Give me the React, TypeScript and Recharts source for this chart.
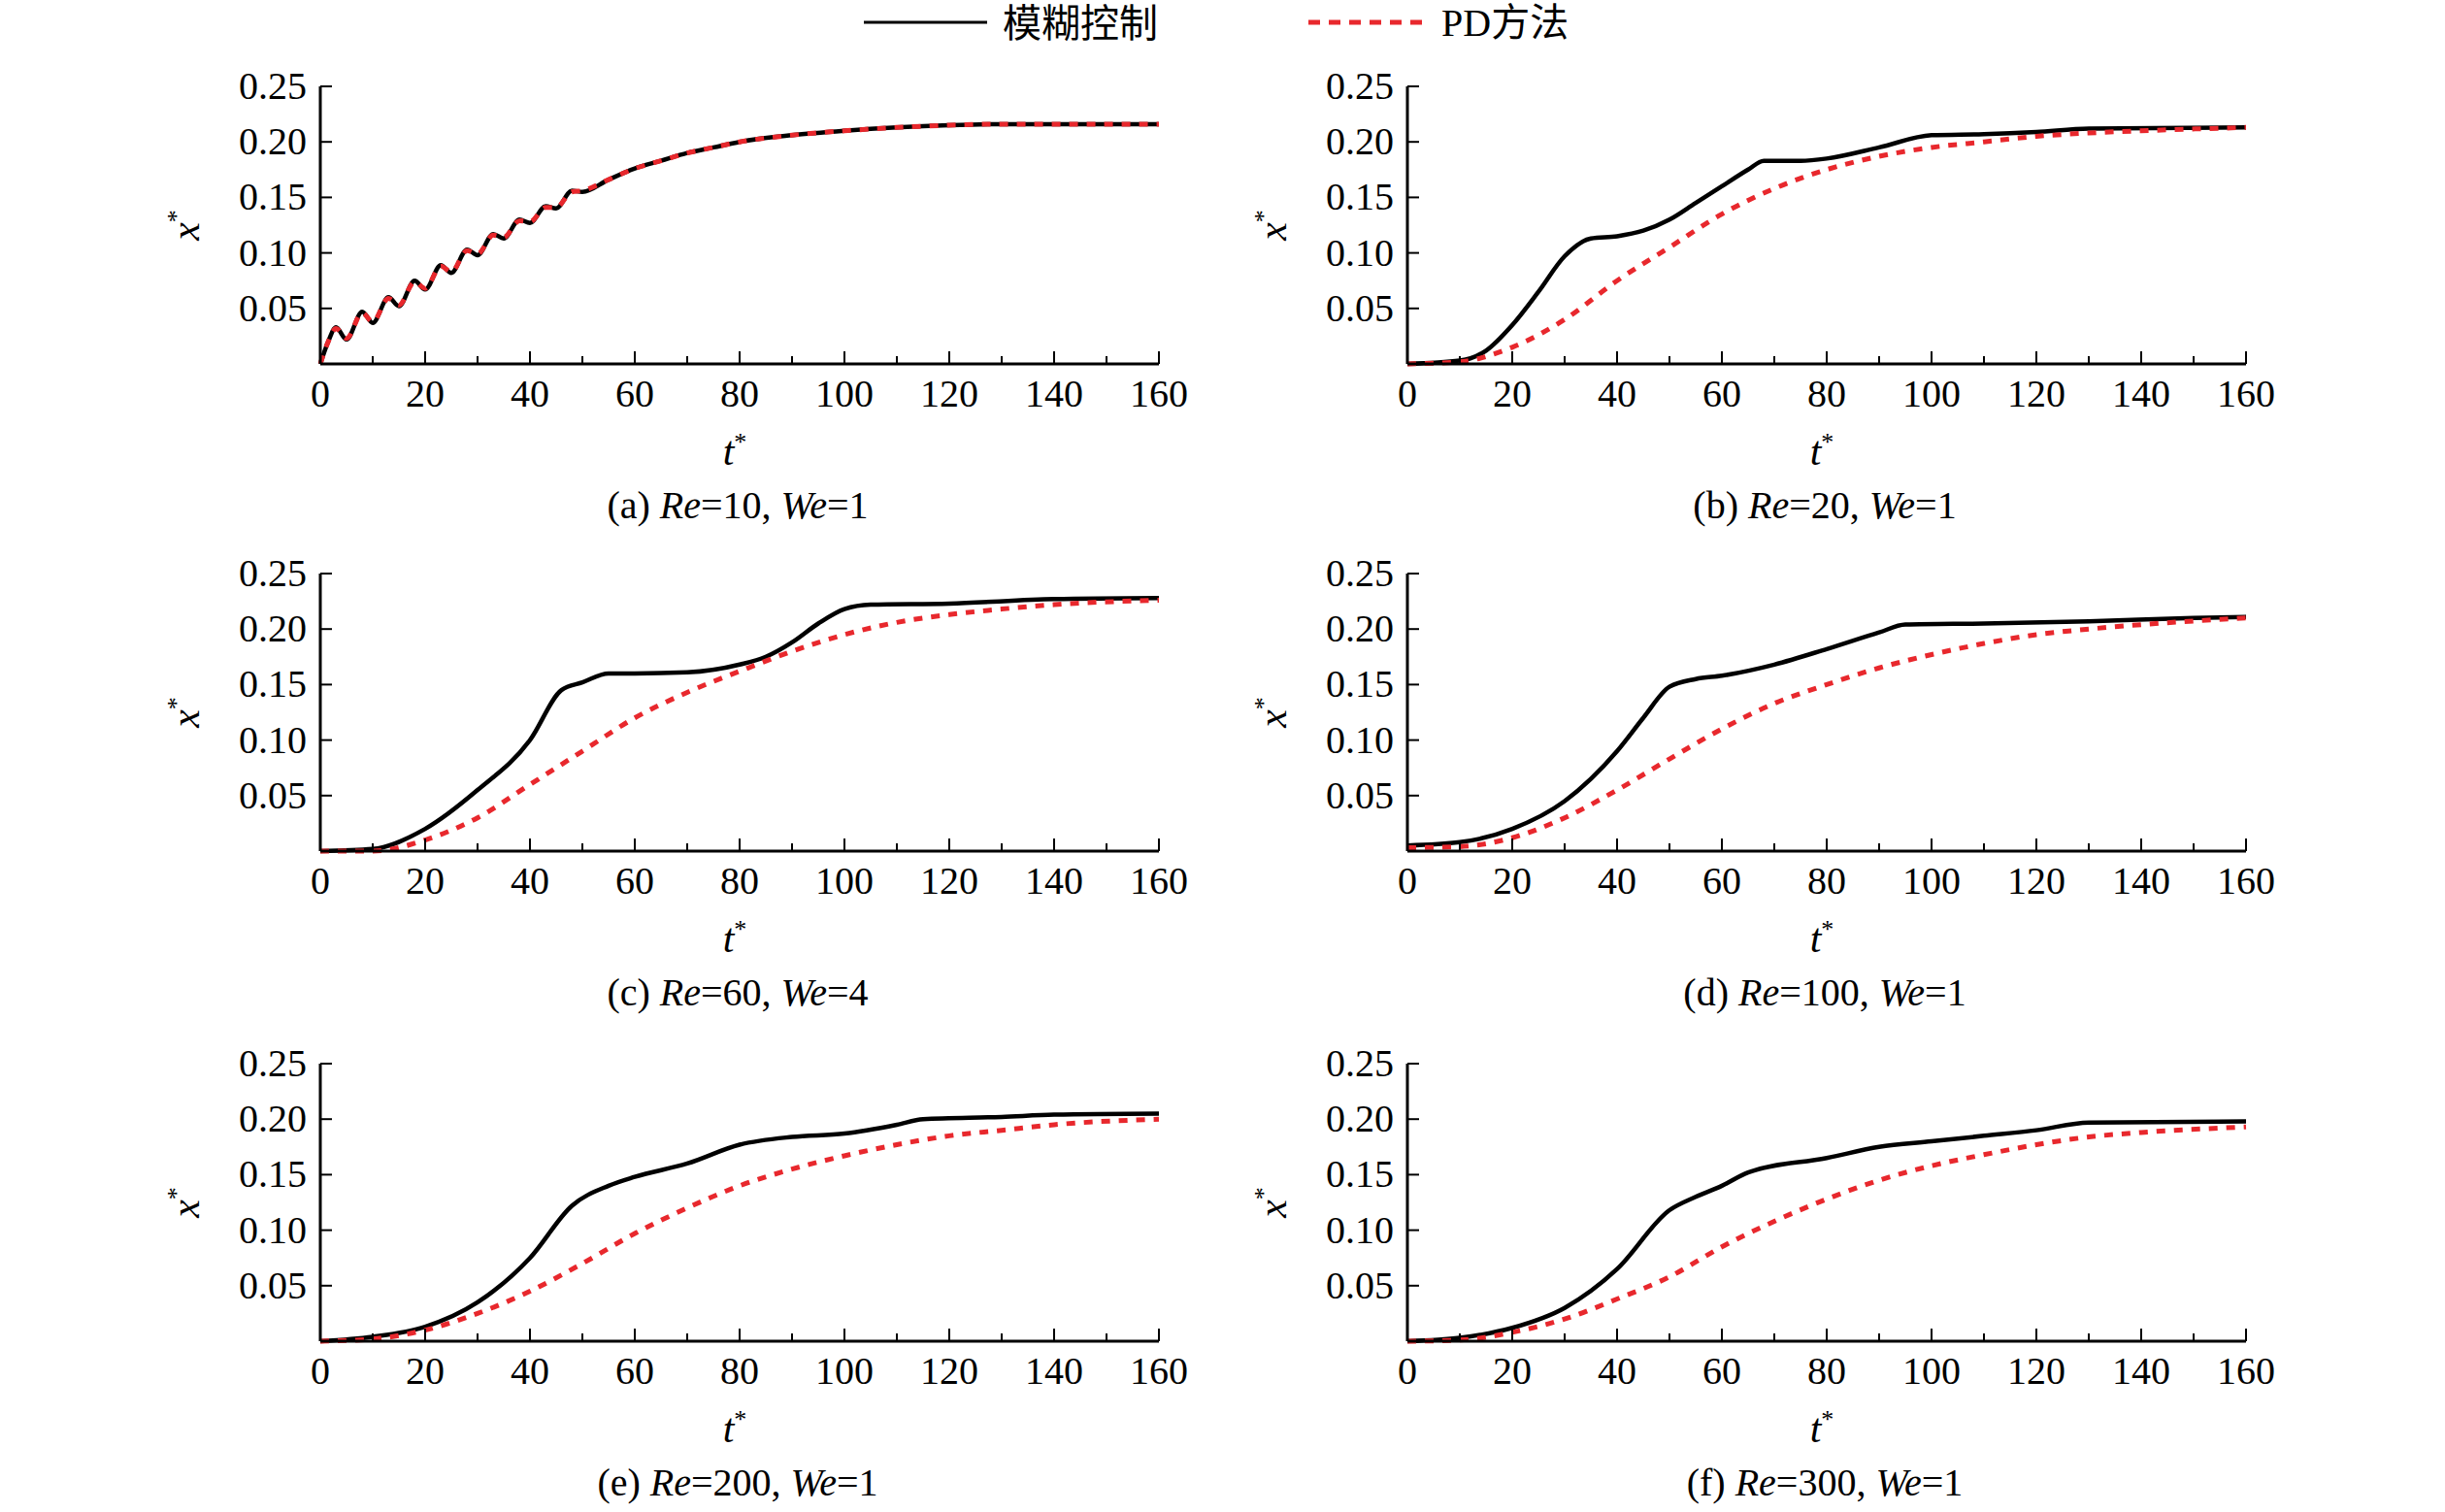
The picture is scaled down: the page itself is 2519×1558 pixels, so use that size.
import React from "react";
import { LineChart, Line, XAxis, YAxis } from "recharts";

type Pt = { t: number; x: number };
const mk = (arr: number[][]): Pt[] => arr.map(([t, x]) => ({ t, x }));

const xTicks = [0, 10, 20, 30, 40, 50, 60, 70, 80, 90, 100, 110, 120, 130, 140, 150, 160];
const yTicks = [0, 0.05, 0.1, 0.15, 0.2, 0.25];

const fuzzyA = mk([[0,0],[1.5,0.02],[3,0.033],[5,0.022],[8,0.047],[10,0.037],[13,0.06],[15,0.052],[18,0.075],[20,0.067],[23,0.089],[25,0.082],[28,0.103],[30,0.098],[33,0.117],[35,0.113],[38,0.13],[40,0.127],[43,0.142],[45,0.14],[48,0.156],[50,0.155],[55,0.166],[60,0.176],[65,0.183],[70,0.19],[75,0.195],[80,0.2],[90,0.206],[100,0.21],[110,0.213],[120,0.215],[130,0.216],[160,0.216]]);
const pdA = mk([[0,0],[1.5,0.02],[3,0.032],[5,0.023],[8,0.046],[10,0.038],[13,0.059],[15,0.053],[18,0.074],[20,0.068],[23,0.088],[25,0.083],[28,0.102],[30,0.099],[33,0.116],[35,0.114],[38,0.129],[40,0.128],[43,0.141],[45,0.141],[48,0.155],[50,0.156],[55,0.166],[60,0.176],[65,0.183],[70,0.19],[75,0.195],[80,0.2],[90,0.206],[100,0.21],[110,0.213],[120,0.215],[130,0.216],[160,0.216]]);
const fuzzyB = mk([[0,0],[10,0.003],[15,0.012],[20,0.035],[25,0.065],[30,0.097],[35,0.113],[40,0.115],[45,0.12],[50,0.13],[55,0.145],[60,0.16],[65,0.175],[68,0.183],[75,0.183],[80,0.185],[90,0.195],[100,0.206],[110,0.207],[120,0.209],[130,0.212],[160,0.213]]);
const pdB = mk([[0,0],[10,0.002],[20,0.015],[30,0.04],[40,0.075],[50,0.105],[60,0.135],[70,0.158],[80,0.175],[90,0.187],[100,0.195],[110,0.2],[120,0.205],[130,0.208],[140,0.21],[160,0.213]]);
const fuzzyC = mk([[0,0],[10,0.002],[20,0.02],[30,0.055],[40,0.1],[46,0.145],[50,0.152],[55,0.16],[60,0.16],[70,0.161],[80,0.168],[85,0.175],[90,0.188],[95,0.205],[100,0.218],[105,0.222],[120,0.223],[140,0.227],[160,0.228]]);
const pdC = mk([[0,0],[10,0],[20,0.01],[30,0.03],[40,0.06],[50,0.09],[60,0.12],[70,0.143],[80,0.162],[90,0.18],[100,0.195],[110,0.206],[120,0.213],[130,0.218],[140,0.222],[160,0.226]]);
const fuzzyD = mk([[0,0.005],[10,0.008],[20,0.02],[30,0.045],[40,0.09],[45,0.12],[50,0.148],[55,0.155],[60,0.158],[70,0.168],[80,0.182],[90,0.197],[95,0.204],[110,0.205],[130,0.207],[150,0.21],[160,0.211]]);
const pdD = mk([[0,0.003],[10,0.004],[20,0.012],[30,0.03],[40,0.055],[50,0.083],[60,0.11],[70,0.133],[80,0.15],[90,0.165],[100,0.177],[110,0.187],[120,0.195],[130,0.2],[140,0.204],[160,0.21]]);
const fuzzyE = mk([[0,0],[10,0.004],[20,0.013],[30,0.035],[40,0.075],[48,0.122],[55,0.14],[60,0.148],[70,0.16],[80,0.177],[90,0.184],[100,0.187],[110,0.195],[115,0.2],[130,0.202],[140,0.204],[160,0.205]]);
const pdE = mk([[0,0],[10,0.002],[20,0.01],[30,0.025],[40,0.045],[50,0.07],[60,0.097],[70,0.12],[80,0.14],[90,0.155],[100,0.167],[110,0.177],[120,0.185],[130,0.19],[140,0.195],[160,0.2]]);
const fuzzyF = mk([[0,0],[10,0.003],[20,0.012],[30,0.03],[40,0.065],[50,0.118],[55,0.13],[60,0.14],[65,0.152],[80,0.165],[90,0.175],[100,0.18],[110,0.185],[120,0.19],[130,0.197],[160,0.198]]);
const pdF = mk([[0,0],[10,0.001],[20,0.008],[30,0.02],[40,0.038],[50,0.058],[60,0.085],[70,0.108],[80,0.128],[90,0.145],[100,0.158],[110,0.168],[120,0.177],[130,0.184],[140,0.188],[160,0.193]]);

const panels = [
  { tag: "(a)", re: "10", we: "1", fuzzy: fuzzyA, pd: pdA },
  { tag: "(b)", re: "20", we: "1", fuzzy: fuzzyB, pd: pdB },
  { tag: "(c)", re: "60", we: "4", fuzzy: fuzzyC, pd: pdC },
  { tag: "(d)", re: "100", we: "1", fuzzy: fuzzyD, pd: pdD },
  { tag: "(e)", re: "200", we: "1", fuzzy: fuzzyE, pd: pdE },
  { tag: "(f)", re: "300", we: "1", fuzzy: fuzzyF, pd: pdF },
];

const FONT = "Liberation Serif, Tinos, DejaVu Serif, serif";
const CJK = "Noto Sans CJK SC, sans-serif";
const PW = 864;
const PH = 286;
const RED = "#e8282d";

const XTick = (p: any) => {
  const { x, y, payload } = p;
  const major = payload.value % 20 === 0;
  return (
    <g>
      <line x1={x} x2={x} y1={y - 8} y2={y - 8 - (major ? 13 : 8)} stroke="#000" strokeWidth={2} />
      {major && (
        <text x={x} y={y + 36} textAnchor="middle" fontSize={40} fontFamily={FONT} fill="#000">
          {payload.value}
        </text>
      )}
    </g>
  );
};

const YTick = (p: any) => {
  const { x, y, payload } = p;
  return (
    <g>
      <line x1={x + 8} x2={x + 20} y1={y} y2={y} stroke="#000" strokeWidth={2} />
      {payload.value !== 0 && (
        <text x={x - 6} y={y + 13} textAnchor="end" fontSize={40} fontFamily={FONT} fill="#000">
          {payload.value.toFixed(2)}
        </text>
      )}
    </g>
  );
};

const Panel = ({ left, top, p }: { left: number; top: number; p: typeof panels[0] }) => (
  <>
    <div style={{ position: "absolute", left: left - 150, top: top - 20 }}>
      <LineChart width={150 + PW + 40} height={20 + PH + 60} margin={{ top: 20, right: 40, left: 0, bottom: 0 }}>
        <XAxis
          dataKey="t" type="number" domain={[0, 160]} ticks={xTicks} interval={0}
          height={60} tick={<XTick />} tickLine={false}
          axisLine={{ stroke: "#000", strokeWidth: 3 }} allowDuplicatedCategory={false}
        />
        <YAxis
          type="number" domain={[0, 0.25]} ticks={yTicks} interval={0} width={150}
          tick={<YTick />} tickLine={false} axisLine={{ stroke: "#000", strokeWidth: 3 }}
        />
        <Line data={p.fuzzy} dataKey="x" type="monotone" stroke="#000" strokeWidth={4.5} dot={false} isAnimationActive={false} />
        <Line data={p.pd} dataKey="x" type="monotone" stroke={RED} strokeWidth={5} strokeDasharray="9 9" dot={false} isAnimationActive={false} />
      </LineChart>
    </div>
    <div style={{ position: "absolute", left: left - 140, top: top + 143, transform: "translate(-50%,-50%) rotate(-90deg)", fontFamily: FONT, fontSize: 42, fontStyle: "italic", lineHeight: 1 }}>
      x<sup style={{ fontSize: 26, fontStyle: "normal" }}>*</sup>
    </div>
    <div style={{ position: "absolute", left: left + 427, top: top + 375, transform: "translate(-50%,-50%)", fontFamily: FONT, fontSize: 42, fontStyle: "italic", lineHeight: 1 }}>
      t<sup style={{ fontSize: 26, fontStyle: "normal" }}>*</sup>
    </div>
    <div style={{ position: "absolute", left: left + 430, top: top + 432, transform: "translate(-50%,-50%)", fontFamily: FONT, fontSize: 40, whiteSpace: "nowrap", lineHeight: 1 }}>
      {p.tag} <i>Re</i>={p.re}, <i>We</i>={p.we}
    </div>
  </>
);

export default function App() {
  const lefts = [330, 1450];
  const tops = [89, 591, 1096];
  return (
    <div style={{ position: "absolute", left: 0, top: 0, width: 2519, height: 1558, background: "#fff" }}>
      <svg style={{ position: "absolute", left: 0, top: 0 }} width={2519} height={60}>
        <line x1={890} x2={1017} y1={23} y2={23} stroke="#000" strokeWidth={3} />
        <text x={1033} y={38} fontSize={40} fontFamily={CJK}>模糊控制</text>
        <line x1={1348} x2={1472} y1={23} y2={23} stroke={RED} strokeWidth={5} strokeDasharray="12 9" />
        <text x={1485} y={37} fontSize={40} fontFamily={FONT}>PD<tspan fontFamily={CJK}>方法</tspan></text>
      </svg>
      {panels.map((p, i) => (
        <Panel key={i} p={p} left={lefts[i % 2]} top={tops[Math.floor(i / 2)]} />
      ))}
    </div>
  );
}
